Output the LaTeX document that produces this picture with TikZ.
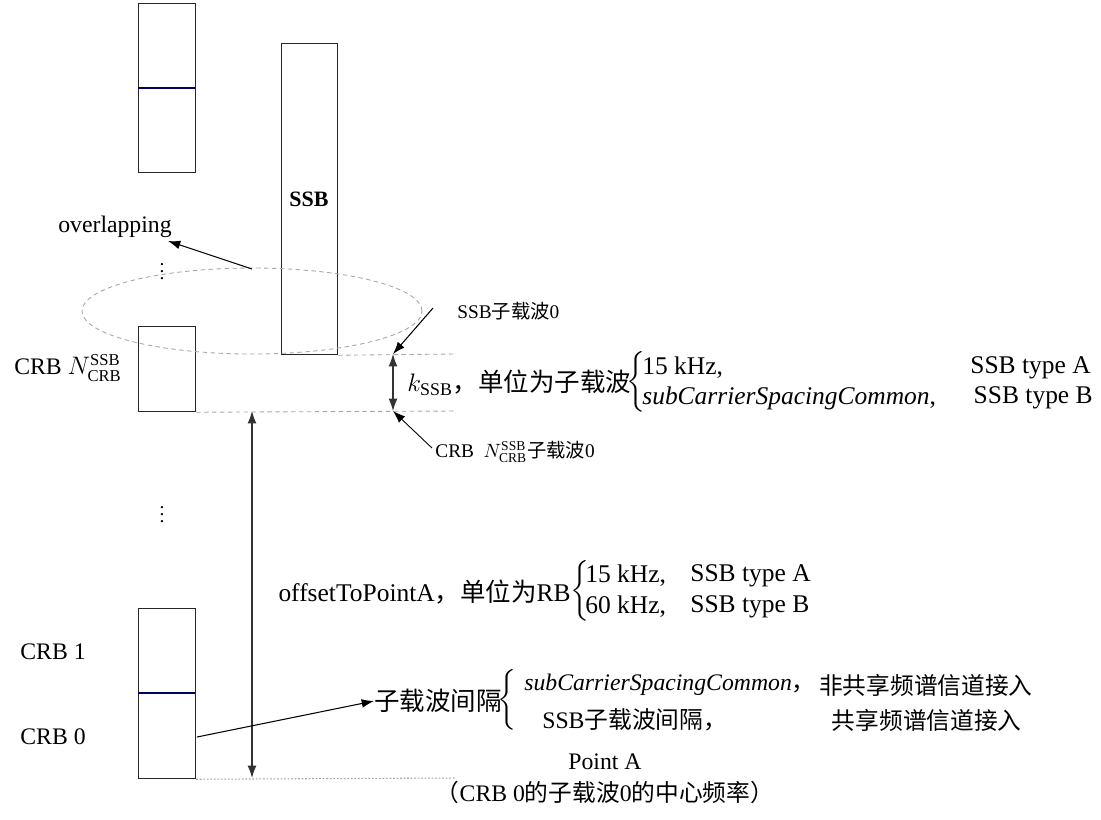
\documentclass[tikz,border=0pt]{standalone}
\usepackage{amsmath}
\usepackage{fontspec}
\setmainfont{Liberation Serif}
\newfontfamily\cjk{Noto Sans CJK SC}
\usetikzlibrary{arrows.meta,shapes.geometric}
\tikzset{
  blk/.style={draw=black!85, line width=0.7pt},
  divl/.style={draw=blue!40!black, line width=0.9pt},
  lbl/.style={inner sep=0pt, font=\fontsize{13.5}{16}\selectfont},
  big/.style={inner sep=0pt, font=\fontsize{14.5}{17}\selectfont},
  small/.style={inner sep=0pt, font=\fontsize{11}{13}\selectfont},
  guide/.style={draw=gray!70, dashed, line width=0.5pt, dash pattern=on 2.5pt off 2pt},
  dotguide/.style={draw=gray!70, line width=0.6pt, dash pattern=on 1pt off 1pt},
  arr/.style={draw=black, line width=0.6pt, -{Latex[length=7pt,width=5pt]}},
  darr/.style={draw=black!80, line width=0.6pt, {Latex[length=7pt,width=5pt]}-{Latex[length=7pt,width=5pt]}},
  brc/.style={inner sep=0pt},
  vd/.style={inner sep=0pt, font=\fontsize{11}{12}\selectfont},
}
\begin{document}
\begin{tikzpicture}[x=0.02cm,y=-0.02cm]
\useasboundingbox (0,0) rectangle (1101,819);
% top-left blocks
\node[blk, minimum width=57*0.02cm, minimum height=169*0.02cm, anchor=north west, inner sep=0] (top) at (138,3) {};
\draw[divl] (138,88) -- (195,88);
% SSB
\node[blk, minimum width=56*0.02cm, minimum height=311*0.02cm, anchor=north west, inner sep=0] (ssb) at (281,43) {};
\node[inner sep=0pt, font=\fontsize{12.5}{15}\selectfont\bfseries] (ssbt) at (309,199) {SSB};
% CRB N block
\node[blk, minimum width=57*0.02cm, minimum height=85*0.02cm, anchor=north west, inner sep=0] (crbn) at (138,326) {};
\node[lbl, anchor=west] (crbnl) at (14,368) {CRB $N_{\mathrm{CRB}}^{\mathrm{SSB}}$};
% ellipse
\node[ellipse, draw=gray!70, dashed, dash pattern=on 2.5pt off 2pt, line width=0.5pt, minimum width=340*0.02cm, minimum height=86*0.02cm, inner sep=0] (ell) at (252,311) {};
\node[lbl] (ov) at (115,227) {overlapping};
\coordinate (ovs) at (252,269);
\coordinate (ove) at (168,241);
\draw[arr] (ovs) -- (ove);
\node[vd] (d1) at (162,266) {$\vdots$};
% guides
\coordinate (g1e) at (455,354);
\coordinate (g2e) at (455,411);
\coordinate (g3e) at (455,778);
\draw[guide] (ssb.south east) -- (g1e);
\draw[guide] (crbn.south east) -- (g2e);
% k_SSB
\coordinate (k1) at (393,354);
\coordinate (k2) at (393,411);
\draw[darr] (k1) -- (k2);
\node[small, anchor=west] (s0) at (457,311) {SSB{\cjk 子载波}0};
\coordinate (s0a) at (433,308);
\draw[arr] (s0a) -- (k1);
\node[small, anchor=west] (c0) at (435,452) {CRB\ \ $N_{\mathrm{CRB}}^{\mathrm{SSB}}${\cjk 子载波}0};
\coordinate (c0a) at (432,448);
\draw[arr, line width=0.5pt] (c0a) -- (k2);
\node[big, anchor=west] (kl) at (407,383) {$k_{\mathrm{SSB}}${\cjk ，单位为子载波}};
\node[brc, anchor=west] (kb) at (626,383) {\fontsize{14}{16}\selectfont$\left\{\rule[-15pt]{0pt}{31pt}\right.$};
\node[big, anchor=west] (ka1) at (642,368) {15 kHz,};
\node[big, anchor=east] (ka2) at (1091,368) {SSB type A};
\node[big, anchor=west] (kb1) at (642,398) {$\mathit{subCarrierSpacingCommon}$,};
\node[big, anchor=east] (kb2) at (1093,398) {SSB type B};
% big double arrow
\coordinate (b1) at (252,411);
\coordinate (b2) at (252,778);
\draw[darr] (b1) -- (b2);
\node[vd] (d2) at (162,509) {$\vdots$};
% offsetToPointA
\node[big, anchor=east] (ol) at (571,592) {offsetToPointA{\cjk ，单位为}RB};
\node[brc, anchor=west] (ob) at (570,592) {\fontsize{14}{16}\selectfont$\left\{\rule[-15pt]{0pt}{31pt}\right.$};
\node[big, anchor=west] (oa1) at (585,576) {15 kHz,};
\node[big, anchor=west] (oa2) at (690,576) {SSB type A};
\node[big, anchor=west] (ob1) at (585,607) {60 kHz,};
\node[big, anchor=west] (ob2) at (690,607) {SSB type B};
% CRB 0/1
\node[blk, minimum width=57*0.02cm, minimum height=170*0.02cm, anchor=north west, inner sep=0] (crb01) at (138,608) {};
\draw[divl] (138,693) -- (195,693);
\node[lbl] (crb1) at (53,652) {CRB 1};
\node[lbl] (crb0) at (53,737) {CRB 0};
\draw[dotguide] (crb01.south east) -- (g3e);
% subcarrier spacing
\coordinate (sa) at (197,737);
\node[big, anchor=west] (scs) at (374,701) {\cjk 子载波间隔};
\draw[arr] (sa) -- (scs.west);
\node[brc, anchor=west] (sb) at (497,701) {\fontsize{14}{16}\selectfont$\left\{\rule[-15pt]{0pt}{31pt}\right.$};
\node[lbl, anchor=west] (sc1) at (524,685) {\textit{subCarrierSpacingCommon}{\cjk ，}};
\node[lbl, anchor=east] (sc2) at (1033,685) {\cjk 非共享频谱信道接入};
\node[lbl, anchor=west] (sd1) at (542,720) {SSB{\cjk 子载波间隔，}};
\node[lbl, anchor=east] (sd2) at (1022,720) {\cjk 共享频谱信道接入};
% Point A
\node[lbl] (pa) at (605,762) {Point A};
\node[lbl] (pad) at (605,792) {{\cjk （}CRB 0{\cjk 的子载波}0{\cjk 的中心频率）}};
\end{tikzpicture}
\end{document}
